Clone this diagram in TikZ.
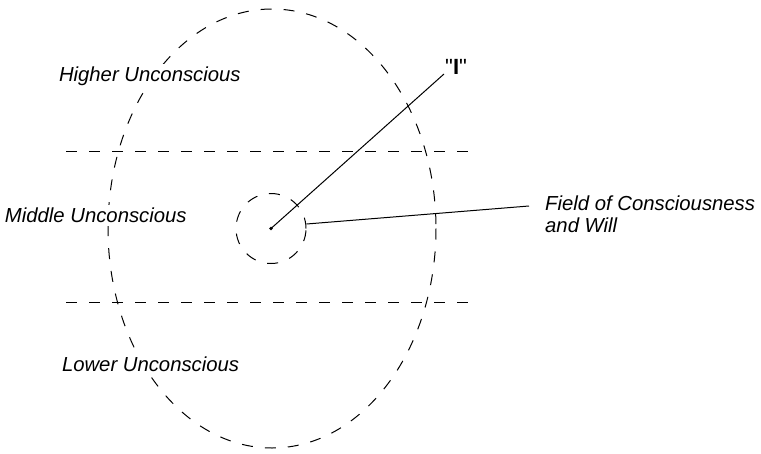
\documentclass[tikz,border=0pt]{standalone}
\usepackage{fontspec}
\setmainfont{Liberation Sans}
\newfontfamily\qfont{Liberation Sans}
\begin{document}
\begin{tikzpicture}[x=1pt,y=-1pt,
  dsh/.style={line width=1pt,dash pattern=on 11pt off 12pt},
  lbl/.style={inner sep=0pt,outer sep=0pt,anchor=base west,fill=white,
    text depth=4pt,text height=17pt,
    font=\fontsize{20.3}{21.5}\selectfont\itshape},
  ln/.style={line width=1pt}]
\useasboundingbox (0,0) rectangle (761,453);
% outer ellipse
\draw[dsh] (272,228.5) ellipse [x radius=164, y radius=219.5];
% horizontal levels
\coordinate (h1a) at (66,151);
\coordinate (h1b) at (475,151);
\coordinate (h2a) at (66,302);
\coordinate (h2b) at (476,302);
\draw[dsh] (h1a) -- (h1b);
\draw[dsh] (h2a) -- (h2b);
% field of consciousness
\node[draw,dsh,circle,minimum size=70pt,inner sep=0pt] (fc) at (271,228.5) {};
\fill (fc.center) circle (1.8pt);
% labels
\node[lbl] (hu) at (59,81) {Higher Unconscious};
\node[lbl] (mu) at (5,222) {Middle Unconscious};
\node[lbl] (lu) at (62,371) {Lower Unconscious};
\node[inner sep=0pt,align=left,anchor=north west,font=\fontsize{20.3}{21.5}\selectfont\itshape] (fw) at (545,196) {Field of Consciousness\\and Will};
\node[inner sep=0pt,anchor=base west,font=\qfont\fontsize{22}{24}\selectfont] (I) at (445,74) {"\textbf{I}"};
% connectors
\coordinate (ie) at (444,74);
\coordinate (fe) at (529,206);
\draw[ln] (fc.center) -- (ie);
\draw[ln] (fc.east |- 0,224) -- (fe);
\end{tikzpicture}
\end{document}
